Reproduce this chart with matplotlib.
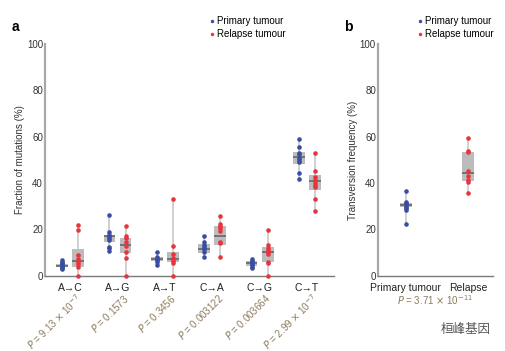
import numpy as np
import matplotlib.pyplot as plt
from matplotlib.lines import Line2D
import matplotlib.transforms as mtransforms

plt.rcParams['font.family'] = ['Liberation Sans', 'DejaVu Sans']

# Panel a data (fraction of mutations, %)
categories = ['A\u2192C', 'A\u2192G', 'A\u2192T', 'C\u2192A', 'C\u2192G', 'C\u2192T']
pvals = [r'$\it{P}$ = 9.13 $\times$ 10$^{-7}$', r'$\it{P}$ = 0.1573', r'$\it{P}$ = 0.3456',
         r'$\it{P}$ = 0.003122', r'$\it{P}$ = 0.003664', r'$\it{P}$ = 2.99 $\times$ 10$^{-7}$']

primary = [
    [3.0, 3.5, 4.0, 4.5, 5.0, 5.5, 6.0, 6.9],
    [26.3, 18.7, 17.7, 17.0, 16.3, 15.5, 12.6, 11.9, 10.9],
    [10.5, 8.0, 7.2, 6.8, 6.2, 4.7],
    [17.2, 14.4, 13.4, 12.4, 11.5, 10.5, 8.0],
    [7.2, 6.5, 5.8, 5.2, 4.6, 3.9, 3.3],
    [59.2, 55.5, 52.9, 52.5, 50.7, 50.0, 49.0, 44.3, 41.8],
]
relapse = [
    [22.0, 19.8, 9.0, 7.3, 6.2, 5.2, 4.0, 0.0],
    [21.3, 17.0, 16.3, 14.8, 12.9, 10.5, 7.6, 0.0],
    [33.0, 12.9, 9.3, 7.6, 7.2, 6.5, 5.7, 0.0],
    [25.9, 22.4, 21.3, 20.5, 19.5, 14.8, 14.1, 8.0],
    [19.8, 13.4, 11.9, 11.2, 10.5, 9.5, 6.2, 5.5, 0.0],
    [52.9, 45.0, 42.8, 41.4, 40.2, 39.2, 38.1, 33.0, 28.0],
]
# box quartiles (q1, median, q3)
primary_box = [(4.0, 4.3, 5.0), (14.8, 17.2, 17.7), (6.5, 7.3, 8.0),
               (10.0, 11.5, 13.8), (4.3, 5.5, 6.5), (48.1, 51.4, 53.3)]
relapse_box = [(4.0, 6.5, 11.5), (9.8, 13.4, 16.3), (5.9, 7.3, 10.2),
               (13.4, 17.2, 21.6), (5.8, 10.2, 12.4), (36.9, 40.7, 43.5)]

# Panel b data (transversion frequency, %)
groups_b = ['Primary tumour', 'Relapse']
trans_primary = [36.5, 32.0, 31.3, 30.6, 29.9, 29.2, 28.4, 22.4]
trans_relapse = [59.4, 54.0, 53.4, 45.1, 43.1, 41.4, 40.5, 35.6]
trans_box = [(29.6, 30.6, 31.3), (41.1, 44.3, 53.3)]
pval_b = r'$\it{P}$ = 3.71 $\times$ 10$^{-11}$'

BLUE = '#3a4da0'
RED = '#e8353d'
PCOL = '#8c7a5c'


def stats(vals, box):
    q1, med, q3 = box
    return dict(med=med, q1=q1, q3=q3, whislo=min(vals), whishi=max(vals), fliers=[])


def draw_group(ax, pos, vals, box, color, width):
    ax.bxp([stats(vals, box)], positions=[pos], widths=width, patch_artist=True,
           showcaps=False, showfliers=False,
           boxprops=dict(facecolor='#bcbcbc', edgecolor='none'),
           medianprops=dict(color='#666666', linewidth=1.2),
           whiskerprops=dict(color='#c8c8c8', linewidth=1.2), zorder=1)
    ax.plot([pos] * len(vals), vals, 'o', color=color, markersize=3.3,
            markeredgewidth=0, clip_on=False, zorder=3)


def style(ax):
    for s in ['top', 'right']:
        ax.spines[s].set_visible(False)
    ax.spines['left'].set_color('#a8a8a8')
    ax.spines['left'].set_linewidth(1.6)
    ax.spines['bottom'].set_color('#7a7a7a')
    ax.spines['bottom'].set_linewidth(1.0)
    ax.set_ylim(0, 100)
    ax.set_yticks([0, 20, 40, 60, 80, 100])
    ax.tick_params(length=0, labelsize=7, colors='#333333', pad=1.5)


fig = plt.figure(figsize=(5.06, 3.51), dpi=100)
ax1 = fig.add_axes([0.089, 0.214, 0.571, 0.661])
ax2 = fig.add_axes([0.747, 0.214, 0.227, 0.661])

# Panel a
x = np.arange(len(categories))
off = 0.17
for i in range(len(categories)):
    draw_group(ax1, x[i] - off, primary[i], primary_box[i], BLUE, 0.25)
    draw_group(ax1, x[i] + off, relapse[i], relapse_box[i], RED, 0.25)
style(ax1)
ax1.set_xlim(-0.53, 5.57)
ax1.set_xticks(x)
ax1.set_xticklabels(categories, fontsize=7.5, color='#222222')
ax1.tick_params(axis='x', pad=5)
ax1.set_ylabel('Fraction of mutations (%)', fontsize=7, color='#333333', labelpad=1)
trans = mtransforms.blended_transform_factory(ax1.transData, ax1.transAxes)
for i, p in enumerate(pvals):
    ax1.text(x[i] + 0.2, -0.088, p, transform=trans, rotation=45,
             rotation_mode='anchor', ha='right', va='center', fontsize=7, color=PCOL)

# Panel b
xb = np.arange(len(groups_b))
draw_group(ax2, xb[0], trans_primary, trans_box[0], BLUE, 0.19)
draw_group(ax2, xb[1], trans_relapse, trans_box[1], RED, 0.19)
style(ax2)
ax2.set_xlim(-0.45, 1.4)
ax2.set_xticks(xb)
ax2.set_xticklabels(groups_b, fontsize=7.5, color='#222222')
ax2.tick_params(axis='x', pad=5)
ax2.set_ylabel('Transversion frequency (%)', fontsize=7, color='#333333', labelpad=1)
ax2.text(0.47, -0.105, pval_b, transform=mtransforms.blended_transform_factory(
    ax2.transData, ax2.transAxes), ha='center', va='center', fontsize=7, color=PCOL)

# Legends
handles = [Line2D([], [], marker='o', ls='', color=BLUE, markersize=2.5, markeredgewidth=0),
           Line2D([], [], marker='o', ls='', color=RED, markersize=2.5, markeredgewidth=0)]
labels = ['Primary tumour', 'Relapse tumour']
for bx in (209 / 506, 417 / 506):
    fig.legend(handles, labels, loc='upper left', bbox_to_anchor=(bx, 1 - 16 / 351),
               frameon=False, fontsize=7, handlelength=0.6, handletextpad=0.2,
               labelspacing=0.35, borderpad=0, borderaxespad=0)

# Panel letters
fig.text(12 / 506, 1 - 27 / 351, 'a', fontsize=10, fontweight='bold', va='center')
fig.text(344 / 506, 1 - 27 / 351, 'b', fontsize=10, fontweight='bold', va='center')

# Watermark
fig.text(441 / 506, 1 - 329 / 351, '桓峰基因', fontsize=9, color='#555555',
         va='center', family=['Noto Sans CJK SC', 'DejaVu Sans'])

fig.savefig('out.png', dpi=100)
